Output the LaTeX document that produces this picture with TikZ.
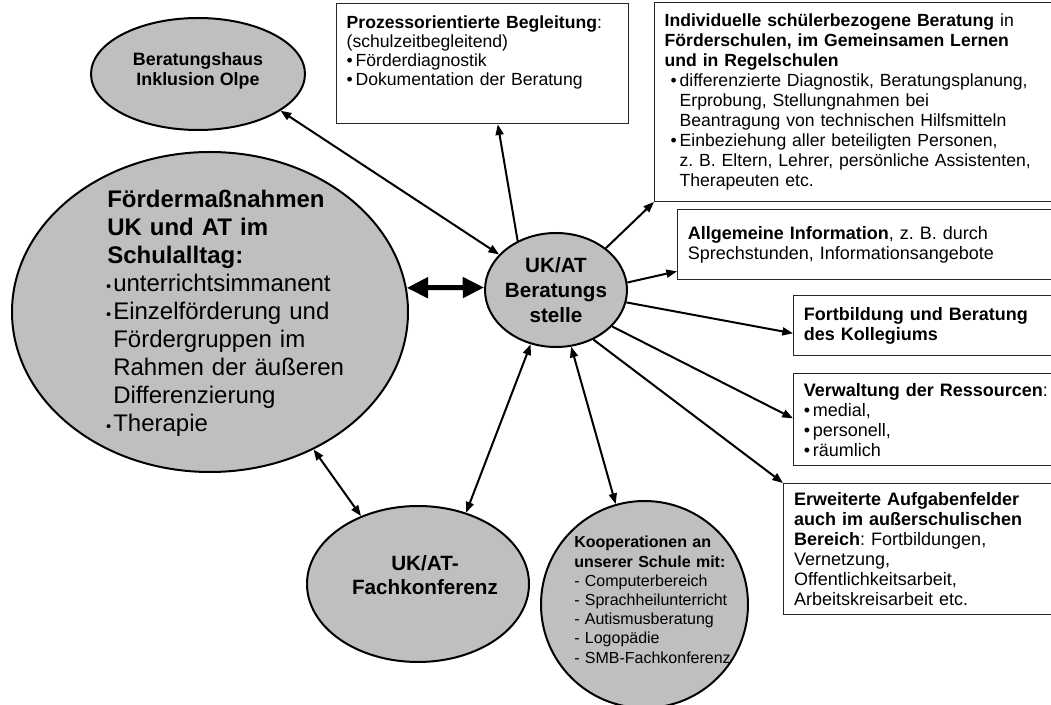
\documentclass[tikz,border=0pt]{standalone}
\usepackage{fontspec}
\setmainfont{Liberation Sans}
\usetikzlibrary{shapes.geometric,arrows.meta}

% Aufzaehlungspunkte
\newcommand{\kbul}{\makebox[6.75pt][l]{\textbullet}}
\newcommand{\ibul}{\hspace*{4.5pt}\makebox[6.75pt][l]{\textbullet}}
\newcommand{\iind}{\hspace*{11.25pt}}
\newcommand{\ebul}{\leavevmode\hspace*{4.5pt}\llap{{\fontsize{11}{11}\selectfont\textbullet}\hspace{1.5pt}}}
\newcommand{\eind}{\hspace*{4.5pt}}

\begin{document}
\frenchspacing
\begin{tikzpicture}[
  x=0.75pt, y=-0.75pt,
  ell/.style={ellipse, draw=black, line width=1.5pt, fill=black!25, inner sep=0pt},
  infobox/.style={rectangle, draw=black!85, line width=1pt, anchor=north west, align=left,
    inner xsep=7.5pt, inner ysep=3pt, font=\fontsize{13.5}{15}\selectfont},
  arr/.style={line width=1.5pt, -{Triangle[length=8pt,width=6pt]}},
  darr/.style={line width=1.5pt, {Triangle[length=8pt,width=6pt]}-{Triangle[length=8pt,width=6pt]}},
  fatarr/.style={line width=3.75pt, {Triangle[length=16pt,width=15pt]}-{Triangle[length=16pt,width=15pt]}}
]
  \useasboundingbox (0,0) rectangle (1051,705);

  % --- Ellipsen ---
  \node[ell, minimum width=160.5pt, minimum height=84pt] (haus) at (198,74) {};
  \node[align=center, font=\fontsize{13.4}{15.5}\selectfont\bfseries] (hausTxt) at (198,71) {Beratungshaus\\Inklusion Olpe};

  \node[ell, minimum width=297pt, minimum height=240pt] (foerder) at (210,312) {};
  \node[anchor=base west, inner sep=0pt, text width=250pt, align=left,
        font=\fontsize{18}{21}\selectfont] (foerderTxt) at (107,208)
    {\textbf{Fördermaßnahmen}\\ \textbf{UK und AT im}\\ \textbf{Schulalltag:}\\
     \ebul unterrichtsimmanent\\ \ebul Einzelförderung und\\ \eind Fördergruppen im\\
     \eind Rahmen der äußeren\\ \eind Differenzierung\\ \ebul Therapie};

  \node[ell, minimum width=106.5pt, minimum height=85.5pt] (stelle) at (556,290) {};
  \node[align=center, font=\fontsize{15.5}{18.75}\selectfont\bfseries] (stelleTxt) at (556,290) {UK/AT\\Beratungs\\stelle};

  \node[ell, minimum width=166.5pt, minimum height=117pt] (fach) at (418,584) {};
  \node[align=center, font=\fontsize{15.5}{17.5}\selectfont\bfseries] (fachTxt) at (425,575) {UK/AT-\\Fachkonferenz};

  \node[ell, circle, minimum size=155.25pt] (koop) at (644.5,604.5) {};
  \node[anchor=base west, inner sep=0pt, text width=130pt, align=left,
        font=\fontsize{12}{14.4}\selectfont] (koopTxt) at (574,548)
    {\textbf{Kooperationen an}\\ \textbf{unserer Schule mit:}\\ - Computerbereich\\
     - Sprachheilunterricht\\ - Autismusberatung\\ - Logopädie\\ - SMB-Fachkonferenz};

  % --- Kaesten ---
  \node[infobox, font=\fontsize{13.2}{14.2}\selectfont, minimum width=219pt, text width=204pt,
        text height=15.75pt, text depth=68.25pt] (proz) at (336,3)
    {\textbf{Prozessorientierte Begleitung}:\\ (schulzeitbegleitend)\\
     \kbul Förderdiagnostik\\ \kbul Dokumentation der Beratung};

  \node[infobox, font=\fontsize{13.2}{15}\selectfont, minimum width=304.5pt, text width=289.5pt,
        minimum height=149pt] (indiv) at (654,2)
    {\textbf{Individuelle schülerbezogene Beratung} in\\
     \textbf{Förderschulen, im Gemeinsamen Lernen}\\
     \textbf{und in Regelschulen}\\
     \ibul differenzierte Diagnostik, Beratungsplanung,\\
     \iind Erprobung, Stellungnahmen bei\\
     \iind Beantragung von technischen Hilfsmitteln\\
     \ibul Einbeziehung aller beteiligten Personen,\\
     \iind z. B. Eltern, Lehrer, persönliche Assistenten,\\
     \iind Therapeuten etc.};

  \node[infobox, minimum width=287.25pt, text width=272pt, minimum height=52.5pt] (allg) at (677,209)
    {\textbf{Allgemeine Information}, z. B. durch\\ Sprechstunden, Informationsangebote};

  \node[infobox, minimum width=200.25pt, text width=185pt, minimum height=45pt] (fort) at (793,295)
    {\textbf{Fortbildung und Beratung}\\ \textbf{des Kollegiums}};

  \node[infobox, minimum width=200.25pt, text width=185pt, minimum height=69pt] (verw) at (793,373)
    {\textbf{Verwaltung der Ressourcen}:\\ \kbul medial,\\ \kbul personell,\\ \kbul räumlich};

  \node[infobox, minimum width=207.75pt, text width=192pt, minimum height=98.25pt] (erw) at (783,483)
    {\textbf{Erweiterte Aufgabenfelder}\\ \textbf{auch im außerschulischen}\\
     \textbf{Bereich}: Fortbildungen,\\ Vernetzung,\\ Offentlichkeitsarbeit,\\ Arbeitskreisarbeit etc.};

  % --- Pfeile ---
  \draw[darr] (stelle.148) -- (haus.336);
  \draw[arr] (stelle.128) -- (proz.284);
  \draw[arr] (stelle.40) -- (indiv.south west);
  \draw[arr] (stelle.6) -- ([yshift=6.75pt]allg.south west);
  \draw[arr] (stelle.-10) -- ([yshift=17.25pt]fort.south west);
  \draw[arr] (stelle.-33) -- ([yshift=36pt]verw.south west);
  \draw[arr] (stelle.-53) -- (erw.north west);
  \draw[darr] (stelle.-75) -- (koop.106);
  \draw[darr] (stelle.245) -- (fach.56);
  \draw[darr] (foerder.-53) -- (fach.130);
  \draw[fatarr] (foerder.7) -- (stelle.178);
\end{tikzpicture}
\end{document}
